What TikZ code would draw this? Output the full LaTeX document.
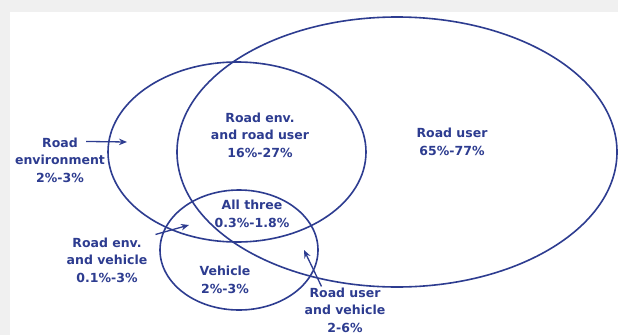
\documentclass[tikz,border=0pt]{standalone}
\usepackage{fontspec}
\setmainfont{DejaVu Sans}
\usetikzlibrary{arrows.meta}
\definecolor{navy}{HTML}{2D3C90}

\begin{document}
\begin{tikzpicture}[x=1pt,y=-1pt,
  ring/.style={draw=navy,line width=1.6pt},
  lbl/.style={text=navy,font=\bfseries\fontsize{12.5}{17.5}\selectfont,align=center,inner sep=0pt},
  pointer/.style={draw=navy,line width=1.3pt,-{Stealth[length=8pt,width=6.5pt]}}]
\useasboundingbox (0,0) rectangle (618,335);
\fill[gray!12] (0,0) rectangle (618,335);
\fill[white] (10,12) rectangle (618,335);
\begin{scope}
\clip (10,12) rectangle (618,335);
\draw[ring] (397,152) ellipse [x radius=220pt,y radius=135pt];
\draw[ring] (237,152) ellipse [x radius=129pt,y radius=90pt];
\draw[ring] (239,250) ellipse [x radius=79pt,y radius=60pt];
\end{scope}
\node[lbl] (renv) at (60,160) {Road\\environment\\2\%-3\%};
\node[lbl] (rer) at (260,135) {Road env.\\and road user\\16\%-27\%};
\node[lbl] (ruser) at (452,142) {Road user\\65\%-77\%};
\node[lbl] (all) at (252,214) {All three\\0.3\%-1.8\%};
\node[lbl] (veh) at (225,280) {Vehicle\\2\%-3\%};
\node[lbl] (rev) at (107,260) {Road env.\\and vehicle\\0.1\%-3\%};
\node[lbl] (ruv) at (345,310) {Road user\\and vehicle\\2-6\%};
\coordinate (renvtip) at (127,142);
\coordinate (revtip) at (189,225);
\coordinate (ruvtip) at (304,250);
\draw[pointer] (renv.north east) ++(-19,4) -- (renvtip);
\draw[pointer] (rev.north east) ++(8,-3) -- (revtip);
\draw[pointer] (ruv.north west) ++(17,-1) -- (ruvtip);
\end{tikzpicture}
\end{document}
